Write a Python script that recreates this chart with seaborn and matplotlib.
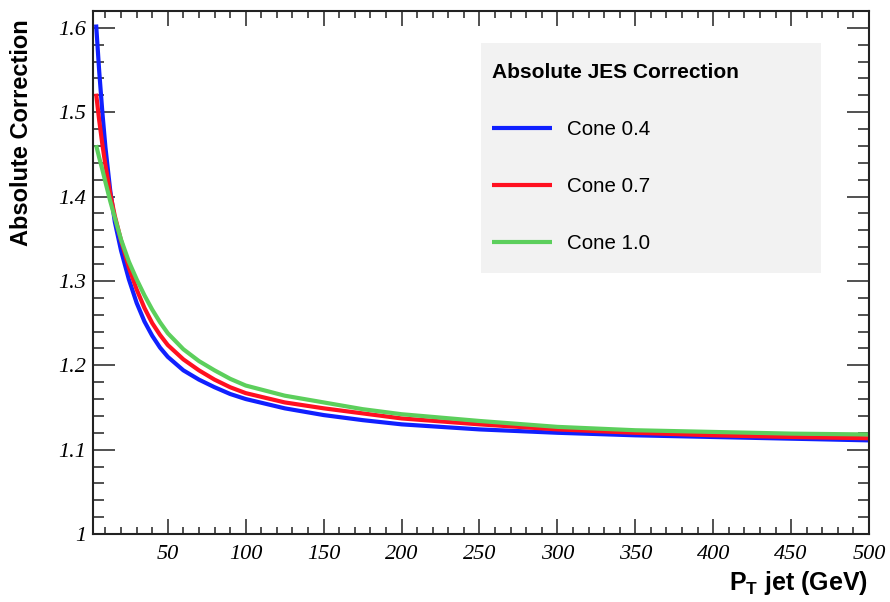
import matplotlib
matplotlib.use("Agg")
import matplotlib.pyplot as plt
from matplotlib.ticker import MultipleLocator, FuncFormatter
from matplotlib.patches import Rectangle
from matplotlib.font_manager import FontProperties
import seaborn as sns
import pandas as pd

# ---------------- data ----------------
pt = [4, 6, 8, 10, 13, 16, 20, 25, 30, 35, 40, 45, 50, 60, 70, 80, 90, 100,
      125, 150, 175, 200, 250, 300, 350, 400, 450, 500]
cone04 = [1.604, 1.548, 1.500, 1.458, 1.408, 1.370, 1.336, 1.302, 1.274, 1.252,
          1.235, 1.221, 1.210, 1.194, 1.183, 1.174, 1.166, 1.160, 1.149, 1.141,
          1.135, 1.130, 1.124, 1.120, 1.117, 1.115, 1.113, 1.111]
cone07 = [1.522, 1.490, 1.462, 1.437, 1.404, 1.377, 1.348, 1.316, 1.290, 1.268,
          1.250, 1.236, 1.224, 1.207, 1.194, 1.183, 1.174, 1.167, 1.156, 1.149,
          1.143, 1.137, 1.130, 1.124, 1.120, 1.117, 1.115, 1.1135]
cone10 = [1.461, 1.446, 1.432, 1.417, 1.395, 1.375, 1.349, 1.323, 1.302, 1.283,
          1.266, 1.251, 1.238, 1.219, 1.205, 1.194, 1.184, 1.176, 1.164, 1.156,
          1.148, 1.142, 1.134, 1.127, 1.123, 1.121, 1.119, 1.118]
series_names = ["Cone 0.4", "Cone 0.7", "Cone 1.0"]
colors = ["#1020ff", "#ff1020", "#5ccf5c"]
legend_title = "Absolute JES Correction"
x_label = "P$_{T}$ jet (GeV)"
y_label = "Absolute Correction"

df = pd.concat([
    pd.DataFrame({"pt": pt, "corr": vals, "cone": name})
    for name, vals in zip(series_names, [cone04, cone07, cone10])
], ignore_index=True)

# ---------------- style ----------------
sns.set_style("ticks")
plt.rcParams["font.family"] = ["Liberation Serif", "DejaVu Serif"]
plt.rcParams["font.style"] = "italic"
plt.rcParams["mathtext.default"] = "regular"
plt.rcParams["text.color"] = "black"
plt.rcParams["axes.labelcolor"] = "black"

W, H = 890, 602
fig = plt.figure(figsize=(W / 100, H / 100), dpi=100)
L, R, T, B = 93, 869, 11, 534
ax = fig.add_axes([L / W, 1 - B / H, (R - L) / W, (B - T) / H])

sns.lineplot(data=df, x="pt", y="corr", hue="cone", palette=colors,
             hue_order=series_names, linewidth=3.0, ax=ax, legend=False,
             estimator=None, sort=True)
for ln in ax.get_lines():
    ln.set_solid_joinstyle("round")
    ln.set_solid_capstyle("butt")

ax.set_xlim(2, 500)
ax.set_ylim(1.0, 1.62)
ax.set_xlabel("")
ax.set_ylabel("")

ax.xaxis.set_major_locator(MultipleLocator(50))
ax.xaxis.set_minor_locator(MultipleLocator(10))
ax.yaxis.set_major_locator(MultipleLocator(0.1))
ax.yaxis.set_minor_locator(MultipleLocator(0.02))
ax.yaxis.set_major_formatter(FuncFormatter(lambda v, p: "%g" % round(v, 3)))
ax.xaxis.set_major_formatter(FuncFormatter(lambda v, p: "%g" % v))

tc = "#222222"
for s in ax.spines.values():
    s.set_linewidth(1.5)
    s.set_color(tc)
ax.tick_params(axis="both", which="both", direction="in", top=True, right=True,
               color=tc, width=1.1, labelcolor="black")
ax.tick_params(axis="y", which="major", length=16, pad=5, labelsize=16)
ax.tick_params(axis="y", which="minor", length=8)
ax.tick_params(axis="x", which="major", length=10.5, pad=8, labelsize=16)
ax.tick_params(axis="x", which="minor", length=5)

# axis titles (ROOT style, aligned to the axis ends)
sans_bold = FontProperties(family=["Liberation Sans", "DejaVu Sans"], weight="bold", style="normal", size=17)
fig.text(22 / W, 1 - 19 / H, y_label, rotation=90, ha="center", va="top",
         fontproperties=sans_bold, color="black")
fig.text(868 / W, 1 - 583 / H, x_label, ha="right", va="center", color="black",
         fontproperties=FontProperties(family=["Liberation Sans", "DejaVu Sans"],
                                       weight="bold", style="normal", size=18))

# legend background box
bx0, bx1, by0, by1 = 481, 821, 43, 273
ax.add_patch(Rectangle(((bx0 - L) / (R - L), (B - by1) / (B - T)),
                       (bx1 - bx0) / (R - L), (by1 - by0) / (B - T),
                       transform=ax.transAxes, facecolor="#f2f2f2",
                       edgecolor="none", zorder=3))

handles = ax.get_lines()[:3]
leg = ax.legend(handles, series_names, title=legend_title,
                loc="upper left",
                bbox_to_anchor=((492 - L) / (R - L), (B - 63) / (B - T)),
                frameon=False, borderpad=0, borderaxespad=0,
                alignment="left", handlelength=2.9, handletextpad=0.75,
                labelspacing=1.85,
                prop=FontProperties(family=["Liberation Sans", "DejaVu Sans"],
                                    style="normal", size=14.8),
                title_fontproperties=FontProperties(family=["Liberation Sans", "DejaVu Sans"],
                                                    weight="bold", style="normal", size=15))
leg.set_zorder(4)
for t in leg.get_texts():
    t.set_color("black")
leg.get_title().set_color("black")
for ln in leg.get_lines():
    ln.set_linewidth(3.0)

fig.savefig("out.png", dpi=100)
